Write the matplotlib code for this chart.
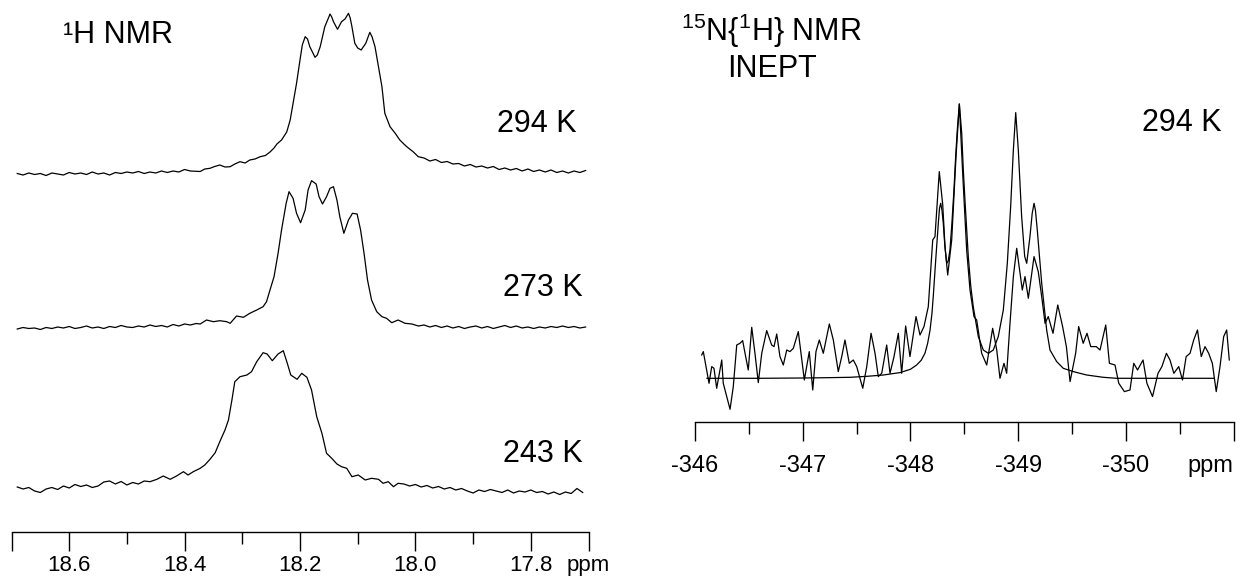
import numpy as np
import matplotlib.pyplot as plt

plt.rcParams['font.family'] = ['Liberation Sans', 'DejaVu Sans']
plt.rcParams['mathtext.default'] = 'regular'

# 1H spectra: (ppm, intensity)
h294 = [(18.69, 1.5), (18.68, 0), (18.67, 2), (18.66, 0.5), (18.65, 1.5), (18.64, -0.5), (18.63, 2),
        (18.62, 1), (18.61, 0), (18.60, 2.5), (18.59, 1), (18.58, 2), (18.57, 0.5), (18.56, 3),
        (18.55, 1), (18.54, 2), (18.53, 0), (18.52, 2.5), (18.51, 1.5), (18.50, 3), (18.49, 2),
        (18.48, 3.5), (18.47, 1.5), (18.46, 3), (18.45, 2), (18.44, 4), (18.43, 2.5), (18.42, 4),
        (18.41, 3), (18.40, 5.5), (18.39, 4), (18.373, 3.5), (18.365, 6), (18.356, 6.7), (18.348, 8.5),
        (18.339, 10), (18.330, 8), (18.321, 8.3), (18.313, 11), (18.304, 13.3), (18.295, 12),
        (18.287, 15), (18.278, 16), (18.269, 18.3), (18.260, 19.5), (18.252, 23), (18.245, 27),
        (18.240, 31), (18.232, 35), (18.223, 43), (18.217, 55), (18.212, 71.7), (18.206, 91.7),
        (18.200, 115), (18.196, 130), (18.191, 138.3), (18.187, 136), (18.183, 128.3), (18.174, 117.7),
        (18.170, 120), (18.165, 128.3), (18.157, 148.3), (18.150, 158), (18.148, 161), (18.145, 158),
        (18.142, 153.3), (18.135, 145.7), (18.128, 153.3), (18.122, 156), (18.116, 161.7),
        (18.113, 157), (18.110, 148.3), (18.105, 131.7), (18.100, 127), (18.094, 125), (18.086, 131.7),
        (18.079, 142.7), (18.075, 138), (18.070, 128.3), (18.064, 108.3), (18.058, 88.3),
        (18.053, 61.7), (18.044, 48.3), (18.035, 41.7), (18.027, 35), (18.020, 31), (18.015, 28.3),
        (18.010, 26), (18.004, 23.3), (17.995, 18.3), (17.985, 17), (17.975, 14), (17.965, 15.5),
        (17.955, 12.5), (17.945, 13.5), (17.935, 11), (17.925, 11.5), (17.915, 9), (17.905, 10.5),
        (17.895, 8), (17.885, 9), (17.875, 7), (17.865, 8.5), (17.855, 5.5), (17.845, 7), (17.835, 5),
        (17.825, 6.5), (17.815, 4), (17.805, 6), (17.795, 3.5), (17.785, 5), (17.775, 3), (17.765, 5),
        (17.755, 2.5), (17.745, 4), (17.735, 2), (17.725, 4), (17.715, 2.5), (17.705, 4.5)]

h273 = [(18.69, 0), (18.68, 1.5), (18.67, 0.5), (18.66, 1), (18.65, -0.5), (18.64, 1.5), (18.63, 0.5),
        (18.62, 2), (18.61, 1), (18.60, 2.5), (18.59, 0.5), (18.58, 1.5), (18.57, 3), (18.56, 1),
        (18.55, 2), (18.54, 0.5), (18.53, 2.5), (18.52, 1.5), (18.51, 3.5), (18.50, 2), (18.49, 1.5),
        (18.48, 3), (18.47, 2), (18.46, 4), (18.45, 2.5), (18.44, 3.5), (18.43, 2), (18.42, 4.5),
        (18.41, 3), (18.40, 5), (18.39, 4), (18.38, 5.5), (18.373, 5), (18.362, 9), (18.350, 7.3),
        (18.339, 8.3), (18.327, 7.3), (18.321, 5.7), (18.310, 13), (18.298, 11.7), (18.287, 15.7),
        (18.275, 19), (18.264, 22.3), (18.258, 27.3), (18.252, 39), (18.245, 52.3), (18.238, 75.7),
        (18.232, 99), (18.224, 125.7), (18.219, 137.3), (18.212, 130.7), (18.206, 115.7),
        (18.199, 106.3), (18.191, 119), (18.186, 139), (18.180, 148.3), (18.172, 145), (18.167, 132.3),
        (18.161, 125), (18.154, 132.3), (18.148, 140.7), (18.142, 142.3), (18.136, 129), (18.131, 112.3),
        (18.124, 95.7), (18.116, 109), (18.109, 115.7), (18.101, 115), (18.095, 99), (18.089, 75.7),
        (18.083, 49), (18.076, 29), (18.067, 17.3), (18.058, 12.3), (18.050, 10.7), (18.041, 6.3),
        (18.030, 9), (18.018, 5.7), (18.006, 5), (17.995, 3), (17.985, 4), (17.975, 2), (17.965, 3.5),
        (17.955, 1.5), (17.945, 3), (17.935, 1), (17.925, 2.5), (17.915, 0.5), (17.905, 2), (17.895, 3),
        (17.885, 1), (17.875, 2.5), (17.865, 0.5), (17.855, 2), (17.845, 3.5), (17.835, 1.5),
        (17.825, 3), (17.815, 1), (17.805, 2), (17.795, 0.5), (17.785, 2), (17.775, 1), (17.765, 2.5),
        (17.755, 1.5), (17.745, 3), (17.735, 1.5), (17.725, 2.5), (17.715, 1), (17.705, 2)]

h243 = [(18.69, 3), (18.68, 1), (18.67, 2.5), (18.66, -1), (18.65, -2.5), (18.64, 1), (18.63, 2.5),
        (18.62, 0.5), (18.61, 4), (18.60, 2), (18.59, 5.5), (18.58, 3.5), (18.57, 5), (18.56, 2.5),
        (18.55, 4), (18.54, 8), (18.53, 9), (18.52, 6), (18.51, 8.5), (18.50, 5), (18.49, 7.5),
        (18.48, 6), (18.47, 9), (18.460, 8.3), (18.448, 10.7), (18.437, 14), (18.425, 10.7),
        (18.414, 14), (18.402, 18.3), (18.394, 15), (18.385, 18.3), (18.373, 21.7), (18.365, 25),
        (18.356, 30.7), (18.347, 37.3), (18.339, 48.3), (18.330, 60), (18.324, 70), (18.318, 90),
        (18.313, 108.3), (18.304, 113.3), (18.292, 115), (18.284, 118.3), (18.275, 128.3),
        (18.264, 137.3), (18.257, 136), (18.248, 129.3), (18.238, 136), (18.229, 139.3), (18.222, 126.7),
        (18.216, 115), (18.205, 110.7), (18.197, 116.7), (18.188, 112.7), (18.180, 100), (18.171, 73.3),
        (18.162, 56.7), (18.154, 36.7), (18.145, 31.7), (18.136, 26), (18.128, 23.3), (18.119, 21.7),
        (18.110, 13.3), (18.099, 15), (18.087, 10), (18.076, 11.7), (18.064, 10.7), (18.056, 6.7),
        (18.047, 8.3), (18.038, 3.3), (18.030, 6.7), (18.02, 6), (18.01, 4), (18.00, 5.5), (17.99, 3),
        (17.98, 4.5), (17.97, 2), (17.96, 3.5), (17.95, 1), (17.94, 2.5), (17.93, 0), (17.92, 1.5),
        (17.91, -1), (17.90, -3), (17.89, 0), (17.88, -1.5), (17.87, 0.5), (17.86, -1), (17.85, -2.5),
        (17.84, 0), (17.83, -3), (17.82, -1), (17.81, -2), (17.80, 0), (17.79, -2.5), (17.78, -1.5),
        (17.77, -4), (17.76, -2), (17.75, -4.5), (17.74, -2), (17.73, -3.5), (17.72, 1.5), (17.71, -2.5)]

h_labels = ['294 K', '273 K', '243 K']

# 15N{1H} INEPT: measured trace and fitted curve
n15_obs = [(-346.064, 23.3), (-346.079, 26.7), (-346.104, 11.7), (-346.132, -5), (-346.157, 11.7),
           (-346.178, 10), (-346.203, -10), (-346.250, 18.3), (-346.264, -5), (-346.296, -18.3),
           (-346.327, -31), (-346.357, -8.3), (-346.389, 33.3), (-346.419, 35), (-346.444, 37.7),
           (-346.466, 25), (-346.496, 8.3), (-346.528, 51), (-346.558, 25), (-346.589, -4.3),
           (-346.621, 25), (-346.667, 47.7), (-346.713, 33.3), (-346.735, 31.7), (-346.760, 44.3),
           (-346.790, 21.7), (-346.821, 13.3), (-346.853, 28.3), (-346.883, 26.7), (-346.914, 30),
           (-346.960, 46.7), (-346.985, 25), (-347.016, -1.7), (-347.038, 11.7), (-347.062, 26.7),
           (-347.094, -11.7), (-347.124, 26.7), (-347.155, 38.3), (-347.192, 25), (-347.248, 54.3),
           (-347.285, 38.3), (-347.331, 6.7), (-347.363, 21.7), (-347.393, 38.3), (-347.433, 15),
           (-347.470, 18.3), (-347.502, 11.7), (-347.558, -10), (-347.595, 11.7), (-347.635, 45),
           (-347.672, 25), (-347.702, 1.7), (-347.734, 5), (-347.780, 33.3), (-347.811, 5),
           (-347.848, 21.7), (-347.888, 45), (-347.919, 5), (-347.956, 52.3), (-347.996, 21.7),
           (-348.052, 61.7), (-348.089, 43.3), (-348.126, 51.7), (-348.166, 71.7), (-348.207, 138.3),
           (-348.228, 141.7), (-348.268, 206.7), (-348.300, 173.3), (-348.321, 131.7), (-348.346, 103.3),
           (-348.383, 138.3), (-348.423, 221.7), (-348.454, 274.3), (-348.485, 205), (-348.522, 128.3),
           (-348.553, 88.3), (-348.590, 61.7), (-348.615, 58.3), (-348.661, 25), (-348.708, 13.3),
           (-348.763, 50), (-348.801, 28.3), (-348.831, 0), (-348.868, 15), (-348.893, 5),
           (-348.924, 55), (-348.955, 101.7), (-348.986, 130), (-349.017, 105), (-349.038, 88.3),
           (-349.063, 101.7), (-349.094, 80), (-349.147, 121.7), (-349.186, 106.7), (-349.218, 81.7),
           (-349.249, 55), (-349.279, 61.7), (-349.323, 45), (-349.367, 73.3), (-349.412, 51.7),
           (-349.447, 31.7), (-349.481, -3.3), (-349.533, 25), (-349.561, 51.7), (-349.603, 35),
           (-349.638, 45), (-349.673, 31.7), (-349.724, 31.7), (-349.759, 28.3), (-349.812, 53.3),
           (-349.846, 15), (-349.898, 13.3), (-349.933, -5), (-349.985, -13.3), (-350.037, -11.7),
           (-350.072, 15), (-350.107, 8.3), (-350.158, 18.3), (-350.194, -5), (-350.246, -18.3),
           (-350.297, 5), (-350.333, 11.7), (-350.375, 25), (-350.408, 18.3), (-350.444, 5),
           (-350.489, 11.7), (-350.524, -1.7), (-350.558, 21.7), (-350.594, 25), (-350.628, 38.3),
           (-350.663, 48.3), (-350.698, 21.7), (-350.733, 31.7), (-350.767, 25), (-350.801, 15),
           (-350.837, -13.3), (-350.872, 11.7), (-350.906, 41.7), (-350.934, 48.3), (-350.958, 18.3)]

n15_fit = [(-346.113, 0), (-346.60, 0), (-347.00, 0.3), (-347.22, 0.6), (-347.44, 1), (-347.60, 2),
           (-347.749, 3.3), (-347.904, 5.7), (-348.000, 9), (-348.058, 13.3), (-348.100, 18),
           (-348.135, 25), (-348.160, 35), (-348.182, 48), (-348.200, 65), (-348.212, 81.7),
           (-348.237, 121.7), (-348.259, 155), (-348.270, 170), (-348.281, 175), (-348.293, 168),
           (-348.305, 155), (-348.320, 132), (-348.337, 115), (-348.350, 117), (-348.367, 128.3),
           (-348.385, 155), (-348.404, 188.3), (-348.420, 222), (-348.435, 248.3), (-348.454, 274.3),
           (-348.476, 245), (-348.490, 210), (-348.506, 178.3), (-348.537, 121.7), (-348.560, 92),
           (-348.583, 71.7), (-348.630, 41.7), (-348.676, 28.3), (-348.723, 25), (-348.769, 28.3),
           (-348.815, 41.7), (-348.862, 68.3), (-348.899, 115), (-348.930, 171.7), (-348.955, 228.3),
           (-348.977, 265.7), (-349.001, 228.3), (-349.032, 161.7), (-349.060, 122), (-349.079, 115),
           (-349.109, 141.7), (-349.130, 165), (-349.147, 175), (-349.160, 168), (-349.177, 148.3),
           (-349.218, 95), (-349.264, 48.3), (-349.295, 28.3), (-349.357, 16.7), (-349.418, 10),
           (-349.511, 6.7), (-349.635, 3.3), (-349.789, 1), (-349.914, 0), (-350.816, 0)]

h_ticks = [18.7, 18.6, 18.4, 18.2, 18.0, 17.8, 17.7]
h_ticklabels = ['', '18.6', '18.4', '18.2', '18.0', '17.8', 'ppm']
h_minor = [18.5, 18.3, 18.1, 17.9]
n_ticks = [-346, -347, -348, -349, -350, -351]
n_ticklabels = ['-346', '-347', '-348', '-349', '-350', 'ppm']
n_minor = [-346.5, -347.5, -348.5, -349.5, -350.5]

W, H = 1245, 585
fig = plt.figure(figsize=(W / 100, H / 100), dpi=100)


def style_axis(ax, major, labels, minor, size, pad):
    for s in ['left', 'right', 'top']:
        ax.spines[s].set_visible(False)
    ax.spines['bottom'].set_linewidth(1.0)
    ax.patch.set_visible(False)
    ax.set_yticks([])
    ax.set_xticks(major)
    ax.set_xticklabels(labels)
    ax.set_xticks(minor, minor=True)
    ax.tick_params(axis='x', which='major', length=13.5, width=1.0, labelsize=size, pad=pad)
    ax.tick_params(axis='x', which='minor', length=8.5, width=1.0)


# left panel: stacked 1H spectra
ax1 = fig.add_axes([11.5 / W, (H - 532) / H, 577 / W, 532 / H])
h_offsets = [357, 203, 42]
for trace, off in zip([h294, h273, h243], h_offsets):
    d = np.array(trace)
    ax1.plot(d[:, 0], d[:, 1] + off, color='black', lw=0.9)
ax1.set_xlim(18.7, 17.7)
ax1.set_ylim(0, 532)
style_axis(ax1, h_ticks, h_ticklabels, h_minor, 16, 3)

# right panel: 15N INEPT
ax2 = fig.add_axes([694.8 / W, (H - 422) / H, 539 / W, 422 / H])
n_off = 43.7
for trace in [n15_fit, n15_obs]:
    d = np.array(trace)
    ax2.plot(d[:, 0], d[:, 1] + n_off, color='black', lw=0.9)
ax2.set_xlim(-346, -351)
ax2.set_ylim(0, 422)
style_axis(ax2, n_ticks, n_ticklabels, n_minor, 17, 10)
ax2.get_xticklabels()[-1].set_ha('right')

big = 22
fig.text(63 / W, 1 - 43.4 / H, '¹H NMR', fontsize=big, ha='left', va='baseline')
fig.text(577 / W, 1 - 131.8 / H, h_labels[0], fontsize=big, ha='right', va='baseline')
fig.text(583 / W, 1 - 295.8 / H, h_labels[1], fontsize=big, ha='right', va='baseline')
fig.text(583 / W, 1 - 462.5 / H, h_labels[2], fontsize=big, ha='right', va='baseline')
fig.text(680.6 / W, 1 - 41.5 / H, '$^{15}$N{$^{1}$H} NMR', fontsize=big, ha='left', va='baseline')
fig.text(727.4 / W, 1 - 76.8 / H, 'INEPT', fontsize=big, ha='left', va='baseline')
fig.text(1221.8 / W, 1 - 130.8 / H, '294 K', fontsize=big, ha='right', va='baseline')

fig.savefig('out.png', dpi=100)
